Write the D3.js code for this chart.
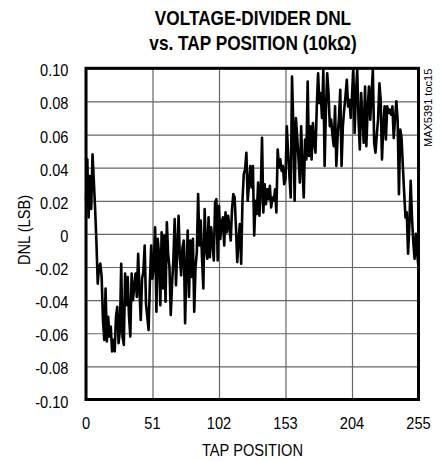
<!DOCTYPE html>
<html>
<head>
<meta charset="utf-8">
<script src="https://cdn.jsdelivr.net/npm/d3@7"></script>
<style>
  body { margin: 0; background: #fff; }
  svg { display: block; }
</style>
</head>
<body>
<div class="canvas"></div>
<script>
// tap positions 0..255 and the DNL (LSB)
const taps = d3.range(0, 256);
const dnl = [
  0.02, 0.045, 0.01, 0.035, 0.015, 0.048, 0.032, 0.015, -0.005, -0.03,
  -0.02, -0.018, -0.026, -0.052, -0.064, -0.033, -0.065, -0.05, -0.062, -0.056,
  -0.071, -0.064, -0.071, -0.05, -0.044, -0.066, -0.058, -0.018, -0.062, -0.067,
  -0.024, -0.043, -0.026, -0.05, -0.062, -0.024, -0.04, -0.032, -0.024, -0.038,
  -0.012, -0.034, -0.052, -0.027, -0.023, -0.007, -0.042, -0.05, -0.058, -0.029,
  -0.007, -0.027, -0.018, 0.004, -0.047, -0.003, -0.012, -0.043, 0.001, -0.033,
  -0.001, -0.041, 0.007, -0.012, -0.02, -0.049, -0.03, -0.016, 0.009, -0.031,
  -0.009, 0.011, -0.015, -0.025, -0.008, -0.004, -0.054, -0.021, 0.002, -0.038,
  -0.004, -0.026, -0.003, -0.047, -0.02, -0.011, 0.024, -0.007, 0.008, -0.015,
  -0.033, 0.015, -0.008, -0.015, 0.01, -0.014, 0.004, -0.005, -0.016, 0.019,
  0.021, -0.016, 0.017, -0.003, 0.007, 0.01, -0.007, 0.013, 0.001, 0.011,
  0.004, -0.004, 0.015, 0.024, 0.022, 0.004, -0.017, -0.003, 0.006, -0.018,
  0.02, 0.036, 0.039, 0.049, 0.02, 0.03, 0.041, 0.028, 0.041, -0.001,
  0.02, 0.012, 0.031, 0.011, 0.025, 0.058, 0.013, 0.03, 0.018, 0.027,
  0.021, 0.029, 0.016, 0.022, 0.02, 0.027, 0.013, 0.051, 0.04, 0.045,
  0.038, 0.041, 0.03, 0.033, 0.065, 0.049, 0.035, 0.022, 0.095, 0.065,
  0.02, 0.07, 0.058, 0.045, 0.031, 0.065, 0.04, 0.022, 0.057, 0.045,
  0.092, 0.047, 0.065, 0.045, 0.067, 0.055, 0.049, 0.077, 0.097, 0.079,
  0.085, 0.07, 0.099, 0.041, 0.075, 0.097, 0.085, 0.065, 0.069, 0.06,
  0.053, 0.077, 0.041, 0.059, 0.07, 0.087, 0.041, 0.065, 0.075, 0.083,
  0.093, 0.077, 0.081, 0.07, 0.083, 0.1, 0.061, 0.085, 0.099, 0.069,
  0.051, 0.085, 0.07, 0.055, 0.089, 0.053, 0.075, 0.089, 0.069, 0.085,
  0.099, 0.055, 0.049, 0.06, 0.069, 0.091, 0.081, 0.045, 0.065, 0.077,
  0.057, 0.077, 0.073, 0.075, 0.072, 0.077, 0.058, 0.069, 0.08, 0.069,
  0.024, 0.063, 0.058, 0.041, 0.025, 0.01, 0.013, -0.012, 0.005, 0.032,
  0.01, -0.005, -0.015, 0.0, -0.012, -0.02
];
const xTicks = [0, 51, 102, 153, 204, 255];
const yTicks = [0.10, 0.08, 0.06, 0.04, 0.02, 0, -0.02, -0.04, -0.06, -0.08, -0.10];
const yTickLabels = ["0.10", "0.08", "0.06", "0.04", "0.02", "0", "-0.02", "-0.04", "-0.06", "-0.08", "-0.10"];
const titleLines = ["VOLTAGE-DIVIDER DNL", "vs. TAP POSITION (10kΩ)"];
const xTitle = "TAP POSITION";
const yTitle = "DNL (LSB)";
const partNote = "MAX5391 toc15";

const dims = { width: 441, height: 461 };
const plot = { left: 86, right: 418.5, top: 68.3, bottom: 399.5 };
const font = "'Liberation Sans', Arial, sans-serif";
const narrow = 0.86; // the original uses a condensed face

const x = d3.scaleLinear().domain([0, 255]).range([plot.left, plot.right]);
const y = d3.scaleLinear().domain([-0.10, 0.10]).range([plot.bottom, plot.top]);

const svg = d3.select('.canvas').append('svg')
  .attr('width', dims.width)
  .attr('height', dims.height)
  .style('font-family', font);

// grid lines
svg.append('g')
  .attr('transform', `translate(${plot.left},0)`)
  .call(d3.axisLeft(y).tickValues(yTicks).tickSize(-(plot.right - plot.left)).tickFormat(''))
  .call(g => g.select('.domain').remove())
  .call(g => g.selectAll('line').attr('stroke', '#666').attr('stroke-width', 1.2));

svg.append('g')
  .attr('transform', `translate(0,${plot.bottom})`)
  .call(d3.axisBottom(x).tickValues(xTicks).tickSize(-(plot.bottom - plot.top)).tickFormat(''))
  .call(g => g.select('.domain').remove())
  .call(g => g.selectAll('line').attr('stroke', '#666').attr('stroke-width', 1.2));

// the DNL trace
svg.append('path')
  .datum(dnl)
  .attr('d', d3.line().x((d, i) => x(taps[i])).y(d => y(d)))
  .attr('fill', 'none')
  .attr('stroke', '#000')
  .attr('stroke-width', 2.6)
  .attr('stroke-linejoin', 'round');

// frame
svg.append('rect')
  .attr('x', plot.left)
  .attr('y', plot.top)
  .attr('width', plot.right - plot.left)
  .attr('height', plot.bottom - plot.top)
  .attr('fill', 'none')
  .attr('stroke', '#000')
  .attr('stroke-width', 3);

// text helper, squeezes horizontally to mimic the narrow face
function label(px, py, txt, size, anchor, opts = {}) {
  const rot = opts.rotate ? ` rotate(${opts.rotate})` : '';
  const sx = opts.sx == null ? narrow : opts.sx;
  return svg.append('text')
    .attr('transform', `translate(${px},${py})${rot} scale(${sx},1)`)
    .attr('text-anchor', anchor)
    .attr('font-size', size)
    .attr('font-weight', opts.bold ? 'bold' : 'normal')
    .attr('fill', '#000')
    .text(txt);
}

yTicks.forEach((v, i) => label(68.5, y(v) + 8, yTickLabels[i], 17, 'end'));
xTicks.forEach(t => label(x(t), 429.3, String(t), 17, 'middle'));

label(252.5, 456, xTitle, 17, 'middle');
label(29.5, 230, yTitle, 17, 'middle', { rotate: -90 });

label(253, 25, titleLines[0], 21, 'middle', { bold: true, sx: 0.82 });
label(253, 50, titleLines[1], 21, 'middle', { bold: true, sx: 0.82 });

label(432, 147, partNote, 11, 'start', { rotate: -90, sx: 1 });
</script>
</body>
</html>
